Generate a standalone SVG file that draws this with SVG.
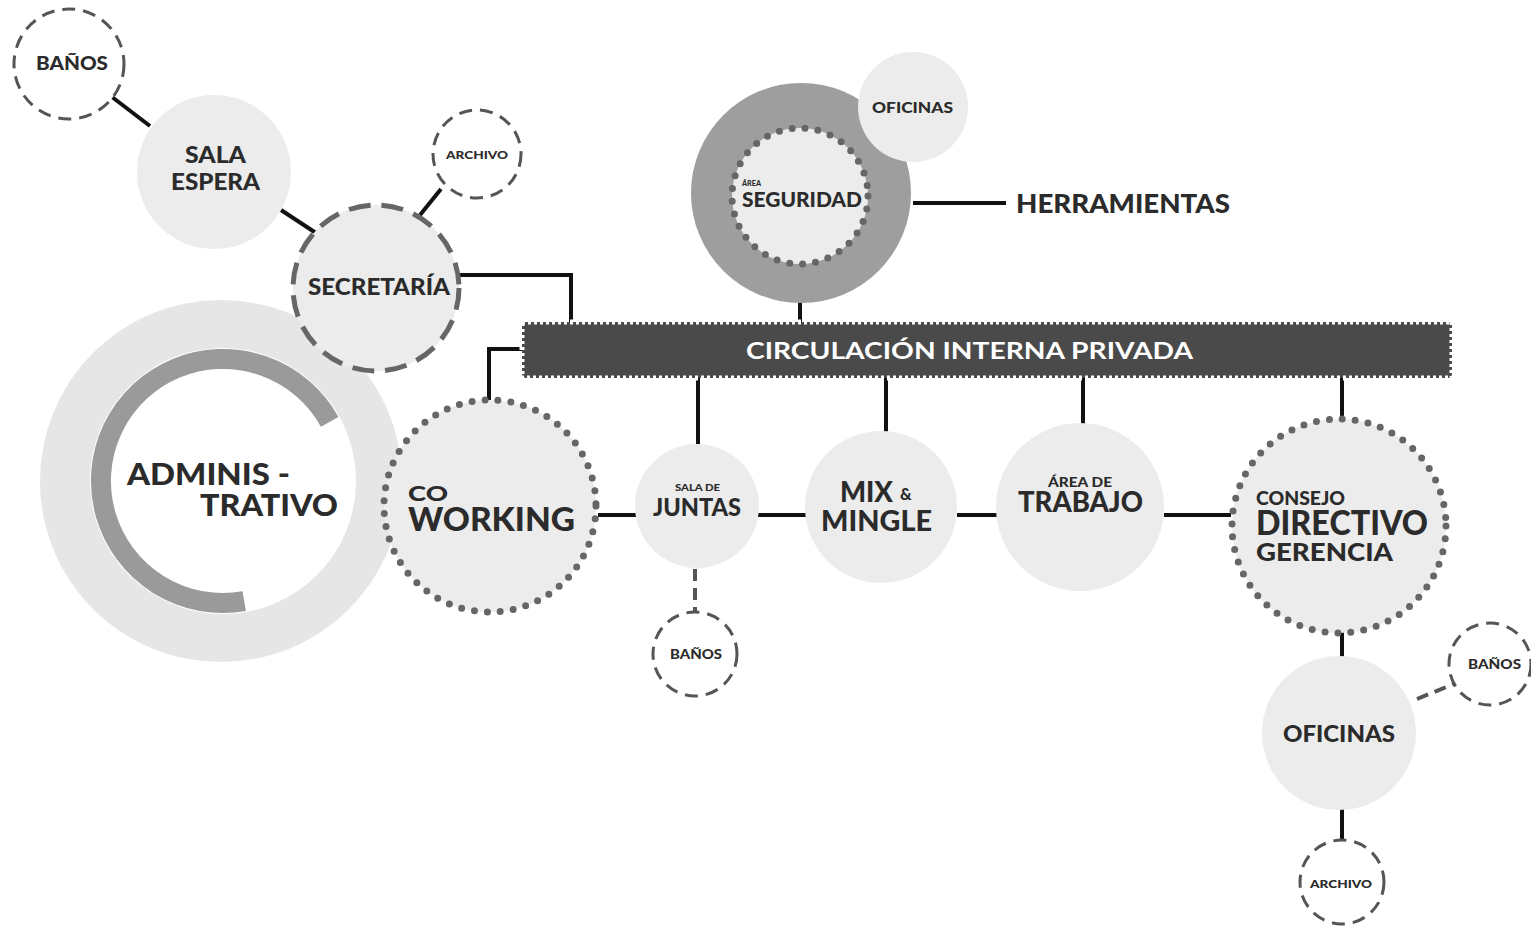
<svg xmlns="http://www.w3.org/2000/svg" width="1531" height="927" viewBox="0 0 1531 927">
  <style>
    .lbl { font-family: Lato, "Liberation Sans", Arial, sans-serif; font-weight: 900; fill: #2b2b2b; }
    .wht { font-family: Lato, "Liberation Sans", Arial, sans-serif; font-weight: 700; fill: #ffffff; }
    .room { fill: #ececec; }
    .dash-s { fill: #ffffff; stroke: #555; stroke-width: 3; stroke-dasharray: 13 8; }
    .dash-l { fill: #ececec; stroke: #666; stroke-width: 5; stroke-dasharray: 22 11; }
    .dots { fill: #ececec; stroke: #666; stroke-width: 7; stroke-dasharray: 0 13; stroke-linecap: round; }
    .link { fill: none; stroke: #111; stroke-width: 4; }
    .link-d { fill: none; stroke: #555; stroke-width: 4; stroke-dasharray: 12 7; }
  </style>

  <rect width="1531" height="927" fill="#ffffff"/>

  <!-- connectors -->
  <g id="connectors">
    <line class="link" x1="112" y1="97" x2="150" y2="126"/>
    <line class="link" x1="281" y1="210" x2="316" y2="233"/>
    <line class="link" x1="441" y1="189" x2="420" y2="215"/>
    <path class="link" d="M460,275 H571 V322"/>
    <path class="link" d="M522,349 H489 V400"/>
    <line class="link" x1="800" y1="300" x2="800" y2="322"/>
    <line class="link" x1="913" y1="203" x2="1006" y2="203"/>
    <line class="link" x1="698" y1="378" x2="698" y2="446"/>
    <line class="link" x1="886" y1="378" x2="886" y2="433"/>
    <line class="link" x1="1083" y1="378" x2="1083" y2="425"/>
    <line class="link" x1="1342" y1="378" x2="1342" y2="420"/>
    <line class="link" x1="598" y1="515" x2="636" y2="515"/>
    <line class="link" x1="758" y1="515" x2="806" y2="515"/>
    <line class="link" x1="957" y1="515" x2="997" y2="515"/>
    <line class="link" x1="1164" y1="515" x2="1231" y2="515"/>
    <line class="link" x1="1342" y1="632" x2="1342" y2="660"/>
    <line class="link" x1="1342" y1="807" x2="1342" y2="841"/>
    <line class="link-d" x1="695" y1="569" x2="695" y2="612"/>
    <line class="link-d" x1="1417" y1="699" x2="1456" y2="683"/>
  </g>

  <!-- corridor bar -->
  <g id="circulacion">
    <rect x="522" y="322" width="930" height="56" fill="#4a4a4a"/>
    <rect x="522" y="322" width="930" height="56" fill="none" stroke="#ffffff" stroke-width="5" stroke-dasharray="3 3"/>
    <text class="wht" x="746" y="359" font-size="23" textLength="447" lengthAdjust="spacingAndGlyphs">CIRCULACIÓN INTERNA PRIVADA</text>
  </g>

  <g id="banos-1">
    <circle class="dash-s" cx="69" cy="64" r="55"/>
    <text class="lbl" x="36" y="70" font-size="18" textLength="72" lengthAdjust="spacingAndGlyphs">BAÑOS</text>
  </g>

  <g id="sala-espera">
    <circle class="room" cx="214" cy="172" r="77"/>
    <text class="lbl" x="185" y="163" font-size="22" textLength="61" lengthAdjust="spacingAndGlyphs">SALA</text>
    <text class="lbl" x="171" y="190" font-size="22" textLength="89" lengthAdjust="spacingAndGlyphs">ESPERA</text>
  </g>

  <g id="archivo-1">
    <circle class="dash-s" cx="477" cy="154" r="44"/>
    <text class="lbl" x="446" y="159" font-size="11" textLength="62" lengthAdjust="spacingAndGlyphs">ARCHIVO</text>
  </g>

  <g id="administrativo">
    <circle cx="221" cy="481" r="181" fill="#e6e6e6"/>
    <circle cx="223" cy="481" r="133" fill="#ffffff"/>
    <path d="M329.7,421.9 A122,122 0 1 0 244.2,601.1" fill="none" stroke="#9a9a9a" stroke-width="20"/>
    <text class="lbl" x="127" y="485" font-size="31" textLength="163" lengthAdjust="spacingAndGlyphs">ADMINIS -</text>
    <text class="lbl" x="200" y="516" font-size="31" textLength="138" lengthAdjust="spacingAndGlyphs">TRATIVO</text>
  </g>

  <g id="secretaria">
    <circle class="dash-l" cx="376" cy="288" r="83"/>
    <text class="lbl" x="308" y="295" font-size="22" textLength="142" lengthAdjust="spacingAndGlyphs">SECRETARÍA</text>
  </g>

  <g id="seguridad">
    <circle cx="801" cy="193" r="110" fill="#9e9e9e"/>
    <circle class="dots" cx="800" cy="196" r="68" stroke-width="6" stroke-dasharray="0 11.5"/>
    <text class="lbl" x="742" y="186" font-size="8" textLength="19" lengthAdjust="spacingAndGlyphs">ÁREA</text>
    <text class="lbl" x="742" y="207" font-size="21" textLength="120" lengthAdjust="spacingAndGlyphs">SEGURIDAD</text>
  </g>

  <g id="oficinas-1">
    <circle class="room" cx="913" cy="107" r="55"/>
    <text class="lbl" x="872" y="113" font-size="15" textLength="81" lengthAdjust="spacingAndGlyphs">OFICINAS</text>
  </g>

  <g id="herramientas">
    <text class="lbl" x="1016" y="213" font-size="26" textLength="214" lengthAdjust="spacingAndGlyphs">HERRAMIENTAS</text>
  </g>

  <g id="coworking">
    <circle class="dots" cx="490" cy="506" r="106"/>
    <text class="lbl" x="408" y="501" font-size="21" textLength="40" lengthAdjust="spacingAndGlyphs">CO</text>
    <text class="lbl" x="408" y="531" font-size="33" textLength="167" lengthAdjust="spacingAndGlyphs">WORKING</text>
  </g>

  <g id="sala-juntas">
    <circle class="room" cx="697" cy="506" r="62"/>
    <text class="lbl" x="675" y="491" font-size="9" textLength="45" lengthAdjust="spacingAndGlyphs">SALA DE</text>
    <text class="lbl" x="653" y="516" font-size="24" textLength="88" lengthAdjust="spacingAndGlyphs">JUNTAS</text>
  </g>

  <g id="banos-2">
    <circle class="dash-s" cx="695" cy="654" r="42"/>
    <text class="lbl" x="670" y="659" font-size="13" textLength="52" lengthAdjust="spacingAndGlyphs">BAÑOS</text>
  </g>

  <g id="mix-mingle">
    <circle class="room" cx="881" cy="507" r="76"/>
    <text class="lbl" x="840" y="502" font-size="29" textLength="53" lengthAdjust="spacingAndGlyphs">MIX</text>
    <text class="lbl" x="900" y="500" font-size="16">&amp;</text>
    <text class="lbl" x="821" y="531" font-size="29" textLength="111" lengthAdjust="spacingAndGlyphs">MINGLE</text>
  </g>

  <g id="area-trabajo">
    <circle class="room" cx="1080" cy="507" r="84"/>
    <text class="lbl" x="1048" y="487" font-size="13" textLength="64" lengthAdjust="spacingAndGlyphs">ÁREA DE</text>
    <text class="lbl" x="1018" y="512" font-size="29" textLength="125" lengthAdjust="spacingAndGlyphs">TRABAJO</text>
  </g>

  <g id="consejo">
    <circle class="dots" cx="1339" cy="526" r="107"/>
    <text class="lbl" x="1256" y="505" font-size="18" textLength="89" lengthAdjust="spacingAndGlyphs">CONSEJO</text>
    <text class="lbl" x="1256" y="535" font-size="34" textLength="172" lengthAdjust="spacingAndGlyphs">DIRECTIVO</text>
    <text class="lbl" x="1256" y="561" font-size="25" textLength="137" lengthAdjust="spacingAndGlyphs">GERENCIA</text>
  </g>

  <g id="oficinas-2">
    <circle class="room" cx="1339" cy="733" r="77"/>
    <text class="lbl" x="1283" y="742" font-size="22" textLength="112" lengthAdjust="spacingAndGlyphs">OFICINAS</text>
  </g>

  <g id="banos-3">
    <circle class="dash-s" cx="1490" cy="664" r="41"/>
    <text class="lbl" x="1468" y="669" font-size="13" textLength="53" lengthAdjust="spacingAndGlyphs">BAÑOS</text>
  </g>

  <g id="archivo-2">
    <circle class="dash-s" cx="1342" cy="882" r="42"/>
    <text class="lbl" x="1310" y="888" font-size="12" textLength="62" lengthAdjust="spacingAndGlyphs">ARCHIVO</text>
  </g>
</svg>
